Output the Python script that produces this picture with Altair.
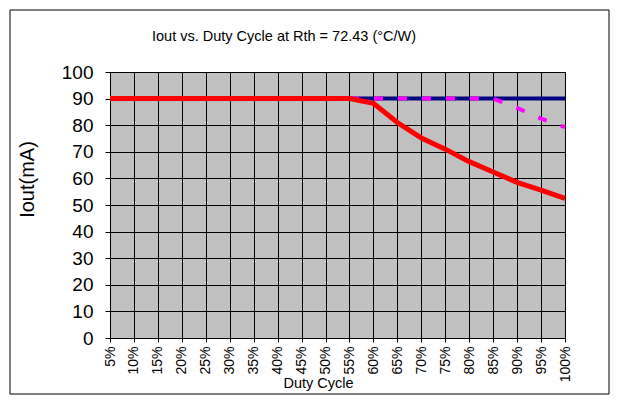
import altair as alt
import pandas as pd

duty = [5, 10, 15, 20, 25, 30, 35, 40, 45, 50, 55, 60, 65, 70, 75, 80, 85, 90, 95, 100]
navy_vals = [90] * 20
magenta_vals = [90, 90, 90, 90, 90, 90, 90, 90, 90, 90, 90, 90, 90, 90, 90, 90, 90, 86.5, 82.5, 79.3]
red_vals = [90, 90, 90, 90, 90, 90, 90, 90, 90, 90, 90, 88.2, 81.0, 75.2, 71.0, 66.3, 62.4, 58.5, 55.6, 52.5]

title_text = "Iout vs. Duty Cycle at Rth = 72.43 (°C/W)"
x_title = "Duty Cycle"
y_title = "Iout(mA)"

rows = []
for name, vals in (("navy", navy_vals), ("magenta", magenta_vals), ("red", red_vals)):
    for d, v in zip(duty, vals):
        rows.append({"duty": d, "iout": v, "series": name})
df = pd.DataFrame(rows)

W, H = 455, 266
FONT = "Liberation Sans"

xenc = alt.X(
    "duty:Q",
    scale=alt.Scale(domain=[5, 100], nice=False, zero=False),
    axis=alt.Axis(
        values=duty, labelExpr="datum.value + '%'", labelAngle=270, labelAlign="right",
        labelBaseline="middle", labelFontSize=14, labelFont=FONT, labelColor="black",
        labelPadding=4, labelOverlap=False, labelFlush=False,
        tickSize=4, tickColor="black", domainColor="black",
        grid=True, gridColor="black", gridOpacity=1, gridWidth=1,
        title=x_title, titleFont=FONT, titleFontSize=14.5, titleFontWeight="normal",
        titleColor="black", titleX=208, titleY=38, titleBaseline="top", titleAnchor="middle",
    ),
)
yenc = alt.Y(
    "iout:Q",
    scale=alt.Scale(domain=[0, 100], nice=False),
    axis=alt.Axis(
        values=list(range(0, 101, 10)), labelFontSize=19, labelFont=FONT, labelColor="black",
        labelPadding=12, labelOverlap=False, labelFlush=False,
        tickSize=5, tickColor="black", domainColor="black",
        grid=True, gridColor="black", gridOpacity=1, gridWidth=1,
        title=y_title, titleFont=FONT, titleFontSize=20, titleFontWeight="normal",
        titleColor="black", titleX=-73, titleY=107, titleAngle=270,
    ),
)

base = alt.Chart(df)
navy = base.transform_filter("datum.series == 'navy'").mark_line(
    color="#000080", strokeWidth=4).encode(x=xenc, y=yenc)
mag = base.transform_filter("datum.series == 'magenta'").mark_line(
    color="#FF00FF", strokeWidth=4, strokeDash=[9, 15]).encode(x=xenc, y=yenc)
red = base.transform_filter("datum.series == 'red'").mark_line(
    color="#FF0000", strokeWidth=5).encode(x=xenc, y=yenc)

one = pd.DataFrame({"title": [title_text]})
border = alt.Chart(one).mark_rect(
    fill=None, stroke="black", strokeWidth=1
).encode(x=alt.value(-100), x2=alt.value(W + 44), y=alt.value(-62), y2=alt.value(H + 56))
title_mark = alt.Chart(one).mark_text(
    align="left", baseline="middle", font=FONT, fontSize=14.5, color="black"
).encode(x=alt.value(42), y=alt.value(-35), text="title:N")

chart = alt.layer(navy, mag, red, border, title_mark).properties(
    width=W, height=H,
    autosize=alt.AutoSizeParams(type="none"),
    padding={"left": 102, "top": 64, "right": 45, "bottom": 58},
).configure(
    background="white",
    view=alt.ViewConfig(fill="#C0C0C0", stroke="black", strokeWidth=1),
)

chart.save("out.html", embed_options={"renderer": "svg", "actions": False})
